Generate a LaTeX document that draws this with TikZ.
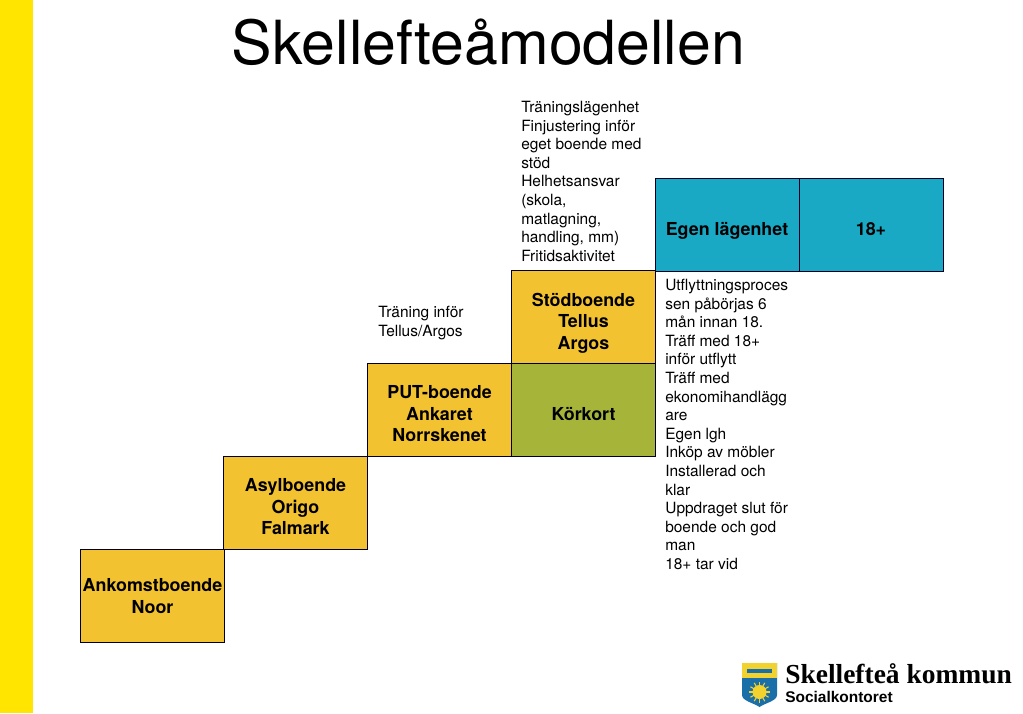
\documentclass[tikz,border=0pt]{standalone}
\usepackage{fontspec}
\setmainfont{TeX Gyre Heros}
\newfontfamily\logoserif{Liberation Serif}
\newfontfamily\logosans{Liberation Sans}
\definecolor{boxgold}{HTML}{F2C230}
\definecolor{boxgreen}{HTML}{A6B53A}
\definecolor{boxblue}{HTML}{1AA9C4}
\definecolor{barY}{HTML}{FFE500}
\definecolor{shieldblue}{HTML}{1B6FA8}
\definecolor{shieldyellow}{HTML}{F2D22E}
\tikzset{x=0.75pt,y=-0.75pt,
 stepbox/.style={draw=black!85!blue,line width=0.75pt,fill=boxgold,minimum width=108pt,minimum height=69.75pt,inner sep=0pt},
 steptext/.style={align=center,inner sep=0pt,yshift=-3pt,font=\fontsize{13.4pt}{16.1pt}\selectfont\bfseries},
 note/.style={anchor=north west,align=left,inner sep=0pt,font=\fontsize{11.6pt}{13.95pt}\selectfont}}
\begin{document}
\begin{tikzpicture}
\useasboundingbox (0,0) rectangle (1023,713);
\fill[barY] (0,0) rectangle (33,713);
\node[anchor=center,inner sep=0pt,font=\fontsize{45.6pt}{50pt}\selectfont] (title) at (488.5,42) {Skellefteåmodellen};
\node[stepbox,label={[steptext,yshift=3pt]center:Ankomstboende\\Noor}] (a) at (152.5,596) {};
\node[stepbox,label={[steptext]center:Asylboende\\Origo\\Falmark}] (b) at (295.5,503) {};
\node[stepbox,label={[steptext]center:PUT-boende\\Ankaret\\Norrskenet}] (c) at (439.5,410) {};
\node[stepbox,label={[steptext,yshift=-1.5pt]center:Stödboende\\Tellus\\Argos}] (d) at (583.5,317) {};
\node[stepbox,fill=boxgreen,label={[steptext]center:Körkort}] (e) at (583.5,410) {};
\node[stepbox,fill=boxblue,label={[steptext,yshift=-1.5pt]center:Egen lägenhet}] (f) at (727,224.5) {};
\node[stepbox,fill=boxblue,label={[steptext,yshift=-0.75pt]center:18+}] (g) at (871,224.5) {};
\node[note] (n1) at (521,101) {Träningslägenhet\\Finjustering inför\\eget boende med\\stöd\\Helhetsansvar\\(skola,\\matlagning,\\handling, mm)\\Fritidsaktivitet};
\node[note] (n2) at (378,306) {Träning inför\\Tellus/Argos};
\node[note] (n3) at (665,279) {Utflyttningsproces\\sen påbörjas 6\\mån innan 18.\\Träff med 18+\\inför utflytt\\Träff med\\ekonomihandlägg\\are\\Egen lgh\\Inköp av möbler\\Installerad och\\klar\\Uppdraget slut för\\boende och god\\man\\18+ tar vid};
% logo
\fill[shieldblue] (742,663) -- (777,663) -- (777,695) .. controls (777,701) and (765,703) .. (759.5,707) .. controls (754,703) and (742,701) .. (742,695) -- cycle;
\fill[shieldyellow] (742,663) rectangle (777,678);
\fill[shieldblue] (747,669) rectangle (772,673);
\fill[shieldyellow] (759.5,692) circle (7);
\foreach \a in {0,30,...,330}{\draw[shieldyellow,line width=0.8pt] (759.5,692) -- ++(\a:10.5);}
\node[anchor=base west,inner sep=0pt,font=\logoserif\bfseries\fontsize{20.6pt}{22pt}\selectfont] (logo1) at (785,683) {Skellefteå kommun};
\node[anchor=base west,inner sep=0pt,font=\logosans\bfseries\fontsize{11.6pt}{14pt}\selectfont] (logo2) at (785,702) {Socialkontoret};
\end{tikzpicture}
\end{document}
